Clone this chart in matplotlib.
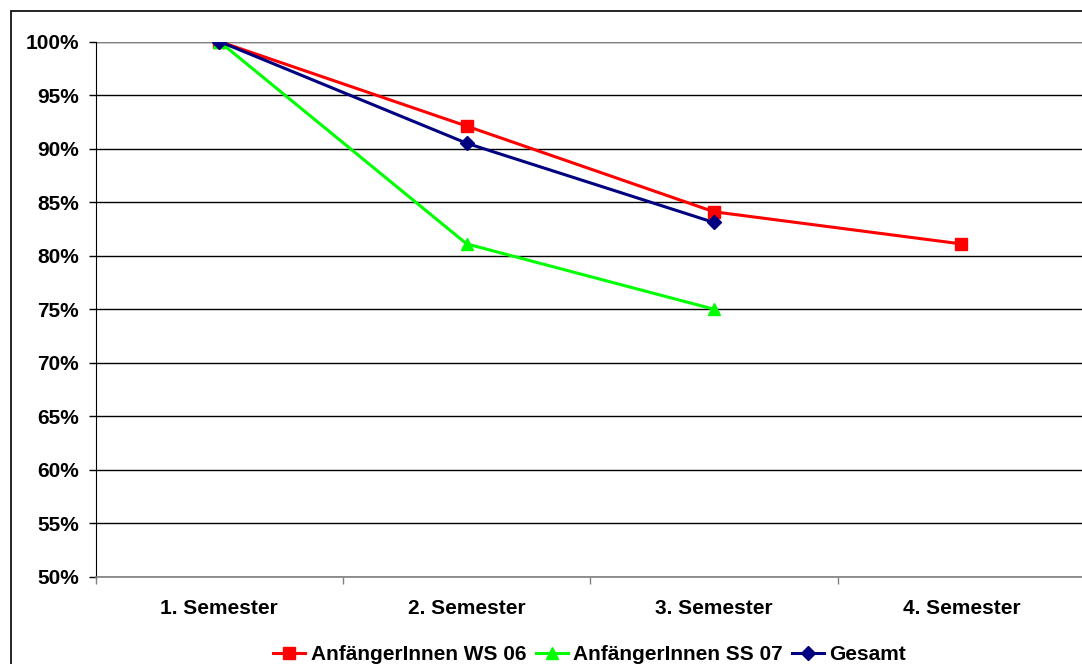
import matplotlib.pyplot as plt
from matplotlib.patches import Rectangle
from matplotlib.ticker import FuncFormatter

plt.rcParams['font.family'] = ['Liberation Sans', 'DejaVu Sans']
plt.rcParams['font.weight'] = 'bold'

categories = ["1. Semester", "2. Semester", "3. Semester", "4. Semester"]
ws06 = [100.0, 92.1, 84.1, 81.1]
ss07 = [100.0, 81.1, 75.0]
gesamt = [100.0, 90.5, 83.1]

fig = plt.figure(figsize=(10.82, 6.64), dpi=100)
ax = fig.add_axes([95.7 / 1082, 1 - 577 / 664, (1085 - 95.7) / 1082, (577 - 41.5) / 664])

# outer chart border (runs off the right/bottom edge like the original)
fig.patches.append(Rectangle((11 / 1082, -0.1), 1.2, 1 - 11 / 664 + 0.1,
                             transform=fig.transFigure, fill=False,
                             edgecolor='black', linewidth=1.2))

x = [i + 0.5 for i in range(len(categories))]
ax.plot(x[:len(ws06)], ws06, color='#FF0000', marker='s', markersize=8,
        linewidth=2.2, label='AnfängerInnen WS 06', zorder=3)
ax.plot(x[:len(ss07)], ss07, color='#00FF00', marker='^', markersize=9,
        linewidth=2.2, label='AnfängerInnen SS 07', zorder=3)
ax.plot(x[:len(gesamt)], gesamt, color='#000080', marker='D', markersize=7.5,
        linewidth=2.2, label='Gesamt', zorder=4)

ax.set_xlim(0, 4)
ax.set_ylim(50, 100)
ax.set_yticks(range(50, 101, 5))
ax.yaxis.set_major_formatter(FuncFormatter(lambda v, p: f"{int(v)}%"))
ax.grid(axis='y', color='black', linewidth=1.0)
ax.set_axisbelow(True)

ax.set_xticks(range(0, 5))
ax.set_xticklabels([])
ax.set_xticks(x, minor=True)
ax.set_xticklabels(categories, minor=True)
ax.tick_params(axis='x', which='minor', length=0, pad=16, labelsize=15)
ax.tick_params(axis='x', which='major', length=5, color='#808080', width=1)
ax.tick_params(axis='y', length=5, pad=7, labelsize=15, width=1)

for s in ['top', 'right']:
    ax.spines[s].set_visible(False)
ax.spines['left'].set_color('black')
ax.spines['bottom'].set_color('#808080')
ax.spines['bottom'].set_linewidth(1.2)
ax.axhline(100, color='#808080', linewidth=1.5, zorder=2)

fig.legend(loc='center', bbox_to_anchor=(0.545, 1 - 655 / 664), ncol=3,
           frameon=False, fontsize=15, handlelength=1.55, handletextpad=0.25,
           columnspacing=0.45, borderaxespad=0)

fig.savefig('out.png', dpi=100)
